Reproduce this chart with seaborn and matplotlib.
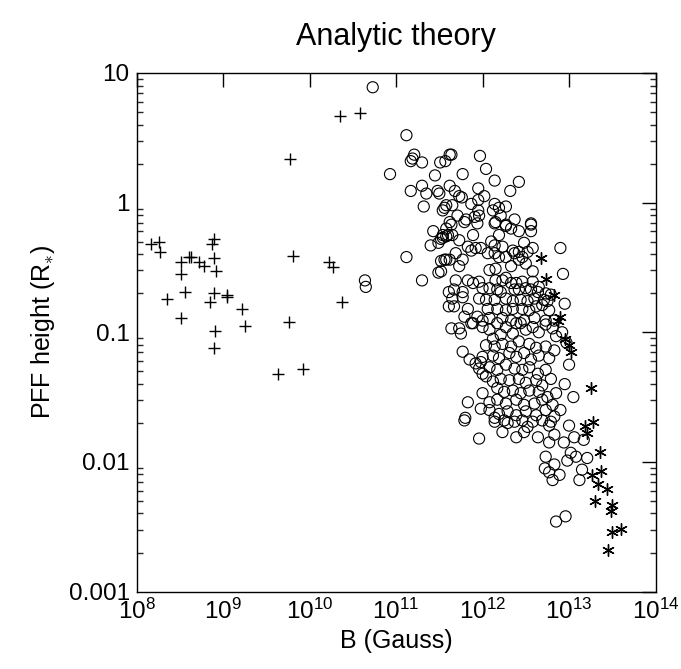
import numpy as np
import pandas as pd
import seaborn as sns
import matplotlib.pyplot as plt
from matplotlib.ticker import FixedLocator, FixedFormatter, LogLocator, NullFormatter

# log10 values
plus_logB = [8.17, 8.26, 8.27, 8.35, 8.51, 8.51, 8.51, 8.56, 8.60, 8.63, 8.72, 8.78,
             8.85, 8.87, 8.89, 8.90, 8.92, 8.90, 8.91, 8.90, 9.04, 9.05, 9.22, 9.25,
             10.35, 10.58, 9.77, 9.81, 10.22, 10.27, 10.38, 9.76, 9.64, 9.92]
plus_logH = [-0.32, -0.30, -0.38, -0.74, -0.46, -0.55, -0.89, -0.69, -0.42, -0.42, -0.46, -0.49,
             -0.77, -0.32, -0.28, -0.43, -0.53, -0.70, -0.99, -1.12, -0.71, -0.73, -0.82, -0.95,
             0.67, 0.69, 0.34, -0.41, -0.46, -0.50, -0.77, -0.92, -1.32, -1.28]

circ_logB = [
    10.73, 10.64, 10.65,
    11.12, 10.93, 11.21, 11.19, 11.17, 11.30, 11.45, 11.51, 11.57, 11.62, 11.17, 11.30,
    11.35, 11.48, 11.50, 11.32, 11.54, 11.58, 11.62,
    11.64, 11.97, 12.04, 11.77, 12.14, 12.42, 12.32, 11.68, 11.73, 11.76, 11.95, 12.02,
    11.95, 11.87, 11.65, 11.56, 12.14, 12.19, 12.27, 12.12, 12.21, 11.95, 11.96, 11.91,
    11.71, 12.37, 12.56, 11.81, 11.62, 12.15, 12.27,
    11.12, 11.30, 11.40, 11.43, 11.49, 11.49, 11.52, 11.54, 11.58, 11.58, 11.60, 11.61,
    11.61,
    11.64, 11.79, 11.94, 12.14, 12.27, 12.33, 12.56, 11.54, 11.58, 11.65, 11.89, 12.10,
    12.19, 12.42, 12.56, 11.73, 11.52, 11.83, 11.87, 11.92, 11.98, 12.14, 12.23, 12.35,
    12.37, 12.42, 12.52, 12.48, 12.58, 11.69, 11.62, 11.56, 11.77, 12.06, 12.14, 12.19,
    12.27, 12.42, 12.46, 12.50, 11.73, 11.52, 12.08, 12.15, 12.33, 12.58, 11.69, 11.83,
    11.89, 11.96, 12.15, 12.23, 12.27, 12.33, 12.39, 12.46, 12.58, 12.65, 11.67, 11.77,
    12.00, 12.08, 12.17, 12.21, 12.37, 12.42, 12.50, 12.56, 12.64, 12.73, 12.79, 11.65,
    11.77, 11.96, 12.04, 12.14, 12.27, 12.35, 12.44, 12.52, 12.60, 12.71, 12.75, 11.67,
    11.83, 12.06, 12.17, 12.27, 12.35, 12.46, 12.54, 12.62, 12.69, 12.77, 11.79, 11.94,
    12.00, 12.08, 12.23, 12.33, 12.48, 12.60, 12.73, 12.83, 11.87, 12.17, 12.39,
    11.64, 11.73, 11.75, 11.89, 11.77, 11.85, 11.92, 11.96, 12.00, 11.98, 11.83, 11.80,
    12.00, 12.08, 12.12, 12.21, 12.27, 12.35, 12.44, 12.50, 12.58, 12.65, 12.73, 12.81,
    12.85, 12.04, 12.14, 12.23, 12.33, 12.42, 12.54, 12.62, 12.73, 12.83, 12.00, 12.12,
    12.19, 12.31, 12.39, 12.48, 12.56, 12.65, 12.77, 12.08, 12.17, 12.27, 12.37, 12.46,
    12.54, 12.64, 12.73, 12.04, 12.12, 12.21, 12.31, 12.42, 12.50, 12.62, 12.69, 12.79,
    12.17, 12.25, 12.35, 12.44, 12.54, 12.65, 12.75, 12.85, 12.00, 12.08, 12.17, 12.27,
    12.39, 12.48, 12.60, 12.69, 12.81, 11.98, 12.08, 12.19, 12.29, 12.39, 12.50, 12.62,
    12.73, 12.83, 12.14, 12.25, 12.37, 12.46, 12.58, 12.69, 12.79,
    11.96, 11.79, 12.23, 12.39, 12.48, 12.52, 12.29, 12.14, 12.64, 12.77, 12.83, 12.94,
    13.02, 12.98, 13.08, 13.17, 13.21, 13.06, 13.00, 12.77, 12.73, 12.72, 12.83, 12.77,
    12.89, 12.81, 13.15, 13.12, 12.85, 12.96,
    12.90, 12.93, 12.95, 12.92, 12.97, 13.00, 12.95, 13.05, 12.90]
circ_logH = [
    0.89, -0.60, -0.65,
    0.52, 0.22, 0.37, 0.34, 0.32, 0.31, 0.21, 0.31, 0.32, 0.37, 0.09, 0.13,
    0.07, 0.09, 0.07, -0.03, -0.06, -0.02, 0.13,
    0.37, 0.36, 0.26, 0.22, 0.17, 0.16, 0.09, 0.09, 0.05, 0.04, 0.11, 0.05,
    0.02, -0.01, -0.02, -0.04, -0.01, -0.04, -0.03, -0.06, -0.10, -0.06, -0.10, -0.11,
    -0.10, -0.13, -0.16, -0.13, -0.15, -0.15, -0.17,
    -0.42, -0.60, -0.33, -0.22, -0.54, -0.31, -0.45, -0.27, -0.44, -0.20, -0.25, -0.69,
    -0.80,
    -0.17, -0.15, -0.16, -0.16, -0.18, -0.20, -0.17, -0.25, -0.26, -0.25, -0.25, -0.30,
    -0.25, -0.22, -0.22, -0.29, -0.28, -0.34, -0.37, -0.35, -0.35, -0.33, -0.34, -0.37,
    -0.39, -0.38, -0.38, -0.31, -0.35, -0.39, -0.44, -0.44, -0.44, -0.39, -0.39, -0.42,
    -0.42, -0.44, -0.42, -0.47, -0.49, -0.53, -0.52, -0.51, -0.49, -0.53, -0.60, -0.60,
    -0.62, -0.61, -0.60, -0.60, -0.58, -0.62, -0.62, -0.61, -0.61, -0.65, -0.67, -0.69,
    -0.66, -0.66, -0.67, -0.69, -0.67, -0.67, -0.66, -0.67, -0.69, -0.70, -0.71, -0.74,
    -0.73, -0.74, -0.75, -0.75, -0.74, -0.76, -0.75, -0.76, -0.74, -0.75, -0.76, -0.80,
    -0.82, -0.82, -0.82, -0.83, -0.82, -0.82, -0.83, -0.80, -0.79, -0.83, -0.88, -0.88,
    -0.91, -0.89, -0.89, -0.91, -0.91, -0.89, -0.91, -0.91, -0.93, -0.93, -0.93,
    -0.97, -0.97, -1.01, -0.93, -1.15, -1.21, -1.24, -1.28, -1.32, -1.23, -1.54, -1.66,
    -0.96, -0.98, -1.05, -1.02, -0.96, -1.01, -0.93, -0.98, -0.96, -1.00, -0.94, -0.97,
    -1.03, -1.10, -1.11, -1.09, -1.11, -1.07, -1.09, -1.12, -1.11, -1.14, -1.19, -1.18,
    -1.20, -1.16, -1.19, -1.16, -1.21, -1.18, -1.20, -1.27, -1.29, -1.25, -1.28, -1.29,
    -1.27, -1.32, -1.29, -1.34, -1.38, -1.36, -1.37, -1.36, -1.39, -1.37, -1.41, -1.36,
    -1.43, -1.46, -1.45, -1.47, -1.45, -1.46, -1.50, -1.47, -1.47, -1.54, -1.52, -1.55,
    -1.52, -1.56, -1.55, -1.52, -1.56, -1.59, -1.60, -1.63, -1.61, -1.64, -1.61, -1.64,
    -1.60, -1.65, -1.66, -1.68, -1.69, -1.68, -1.69, -1.68, -1.69,
    -1.82, -1.68, -1.77, -1.81, -1.77, -1.73, -1.70, -1.69, -1.81, -1.85, -1.79, -1.85,
    -1.93, -1.99, -1.96, -1.83, -1.97, -1.81, -1.72, -1.72, -1.96, -2.05, -2.02, -2.08,
    -2.10, -2.14, -2.06, -2.14, -2.46, -2.42,
    -0.35, -0.55, -0.78, -1.00, -1.08, -1.25, -1.40, -1.50, -1.60]

star_logB = [12.67, 12.73, 12.83, 12.87, 12.90, 12.95, 13.00, 13.02, 13.25,
             13.19, 13.28, 13.21, 13.36, 13.37, 13.26, 13.34, 13.44, 13.30, 13.50,
             13.48, 13.50, 13.60, 13.45]
star_logH = [-0.43, -0.59, -0.71, -0.91, -0.88, -1.05, -1.10, -1.15, -1.43,
             -1.72, -1.69, -1.78, -1.92, -2.07, -2.10, -2.17, -2.21, -2.30, -2.33,
             -2.38, -2.54, -2.52, -2.68]

plus_df = pd.DataFrame({"B": np.power(10.0, plus_logB), "H": np.power(10.0, plus_logH)})
circ_df = pd.DataFrame({"B": np.power(10.0, circ_logB), "H": np.power(10.0, circ_logH)})
star_df = pd.DataFrame({"B": np.power(10.0, star_logB), "H": np.power(10.0, star_logH)})

sns.set_style("white")
plt.rcParams["font.family"] = ["Liberation Sans", "DejaVu Sans"]
plt.rcParams["mathtext.fontset"] = "custom"
plt.rcParams["mathtext.rm"] = "Liberation Sans"
plt.rcParams["mathtext.it"] = "Liberation Sans"
plt.rcParams["text.color"] = "black"
plt.rcParams["axes.labelcolor"] = "black"

fig = plt.figure(figsize=(6.81, 6.69), dpi=100)
ax = fig.add_axes([0.2006, 0.1158, 0.7620, 0.7751])

sns.scatterplot(data=plus_df, x="B", y="H", marker="+", s=70, color="black",
                linewidth=1.0, ax=ax)
sns.scatterplot(data=circ_df, x="B", y="H", marker="o", s=64, facecolor="none",
                edgecolor="black", linewidth=0.8, ax=ax)
sns.scatterplot(data=star_df, x="B", y="H", marker=(6, 2, 0), s=70, color="black",
                linewidth=1.0, ax=ax)

ax.set_xscale("log")
ax.set_yscale("log")
ax.set_xlim(1e8, 1e14)
ax.set_ylim(1e-3, 10)

xt = [1e8, 1e9, 1e10, 1e11, 1e12, 1e13, 1e14]
ax.xaxis.set_major_locator(FixedLocator(xt))
ax.xaxis.set_major_formatter(FixedFormatter([r"$10^{%d}$" % k for k in range(8, 15)]))
yt = [1e-3, 1e-2, 1e-1, 1, 10]
ax.yaxis.set_major_locator(FixedLocator(yt))
ax.yaxis.set_major_formatter(FixedFormatter(["0.001", "0.01", "0.1", "1", "10"]))
ax.yaxis.set_minor_locator(LogLocator(base=10, subs=np.arange(2, 10), numticks=20))
ax.yaxis.set_minor_formatter(NullFormatter())
ax.xaxis.set_minor_locator(FixedLocator([]))

ax.tick_params(which="major", direction="in", length=10, width=1, top=True, right=True,
               labelsize=17.5, colors="black", pad=5)
ax.tick_params(which="minor", direction="in", length=4, width=1, left=True, right=True)
for sp in ax.spines.values():
    sp.set_color("black")
    sp.set_linewidth(1.0)

ax.set_xlabel("B (Gauss)", fontsize=18, labelpad=4)
ax.set_ylabel(r"PFF height (R$_{\ast}$)", fontsize=18, labelpad=8)
ax.set_title("Analytic theory", fontsize=22, pad=20)

fig.savefig("out.png", dpi=100)
